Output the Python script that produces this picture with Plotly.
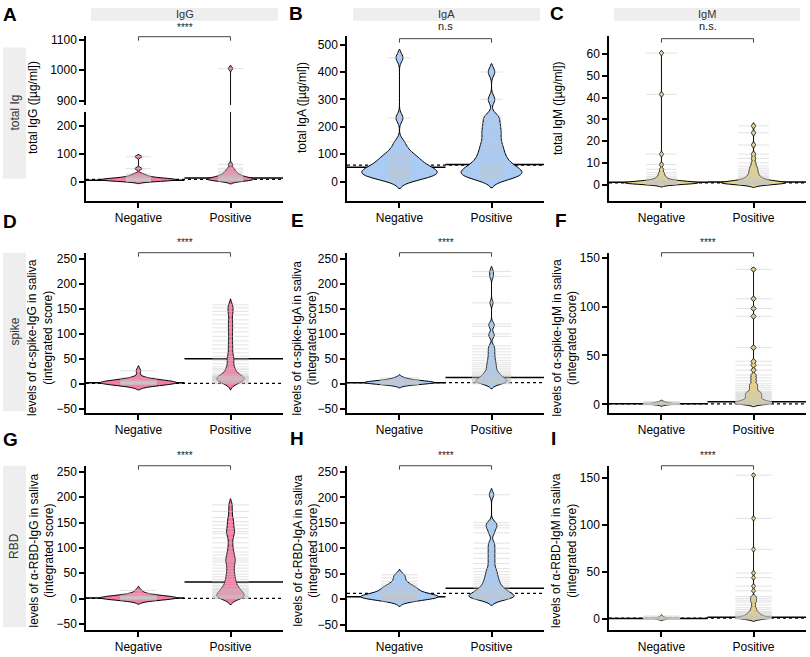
import plotly.graph_objects as go

# ---------------- data ----------------
categories = ["Negative", "Positive"]
antibodies = ["IgG", "IgA", "IgM"]
row_labels = ["total Ig", "spike", "RBD"]
panel_letters = ["A", "B", "C", "D", "E", "F", "G", "H", "I"]

igg_total_neg = [1, 2, 3, 4, 5, 5, 6, 7, 8, 8, 9, 10, 11, 12, 14, 16, 19, 23, 28, 47, 90]
igg_total_pos = [2, 3, 4, 5, 6, 7, 8, 9, 10, 11, 12, 13, 14, 16, 18, 20, 22, 25, 28, 32, 36, 42, 48, 62, 1005]
iga_total_neg = [5, 10, 15, 18, 22, 25, 28, 30, 33, 36, 40, 43, 46, 50, 54, 58, 62, 68, 74, 80, 86, 92,
                 100, 110, 125, 145, 232, 452]
iga_total_pos = [8, 12, 16, 20, 24, 28, 31, 34, 38, 42, 46, 50, 55, 60, 66, 72, 80, 88, 96, 105, 115, 125,
                 135, 148, 160, 175, 185, 200, 212, 230, 240, 300, 400]
igm_total_neg = [0.1, 0.2, 0.3, 0.4, 0.5, 0.5, 0.6, 0.6, 0.7, 0.7, 0.8, 0.8, 0.9, 0.9, 1.0, 1.0, 1.1, 1.2,
                 1.3, 1.4, 1.6, 1.8, 2.1, 2.5, 3.0, 3.6, 4.5, 5.5, 7.0, 9.2, 14, 41.5, 60.5]
igm_total_pos = [0.1, 0.2, 0.3, 0.4, 0.5, 0.5, 0.6, 0.7, 0.7, 0.8, 0.9, 1.0, 1.0, 1.1, 1.2, 1.4, 1.6, 1.8,
                 2.1, 2.4, 2.8, 3.2, 3.7, 4.3, 5.0, 5.8, 6.6, 7.5, 8.5, 10, 12, 14, 18.2, 23.8, 27]
igg_spike_neg = [-2, -1, 0, 0, 1, 1, 1, 2, 2, 2, 2, 3, 3, 3, 4, 4, 5, 6, 8, 12, 26]
igg_spike_pos = [0, 2, 3, 5, 6, 7, 8, 9, 10, 11, 12, 13, 14, 15, 16, 18, 20, 24, 28, 30, 34, 40, 46, 50, 55,
                 62, 70, 78, 86, 95, 104, 112, 120, 128, 138, 145, 152, 158]
iga_spike_neg = [-2, -1, 0, 1, 1, 2, 2, 2, 3, 3, 3, 4, 4, 5, 6, 7, 9, 12]
iga_spike_pos = [0, 1, 2, 3, 4, 5, 6, 7, 8, 9, 10, 12, 14, 16, 18, 20, 23, 26, 30, 34, 38, 42, 47, 52, 58,
                 64, 70, 76, 95, 100, 115, 120, 162, 215, 225]
igm_spike_neg = [-0.5, -0.2, 0, 0.2, 0.3, 0.5, 0.6, 0.8, 1.0, 1.2, 1.5, 2.0, 2.8]
igm_spike_pos = [0, 0.3, 0.6, 1, 1.3, 1.7, 2, 2.5, 3, 3.5, 4, 5, 6, 7, 8, 9, 10, 11, 12, 13, 15, 17, 19, 21,
                 24, 27, 30, 35, 40, 44, 58, 90, 98, 108, 138]
igg_rbd_neg = [-3, -2, -1, 0, 0, 0, 1, 1, 1, 1, 2, 2, 2, 3, 3, 4, 5, 7, 10, 16]
igg_rbd_pos = [0, 1, 2, 3, 4, 5, 6, 8, 10, 12, 14, 16, 18, 20, 23, 26, 30, 34, 38, 43, 48, 54, 60, 66, 72,
               76, 80, 86, 92, 100, 110, 120, 128, 132, 138, 145, 152, 160, 172, 185]
iga_rbd_neg = [-4, -2, 0, 1, 2, 3, 3, 4, 5, 5, 6, 7, 8, 9, 10, 12, 14, 16, 18, 20, 22, 24, 27, 30, 35, 42, 48]
iga_rbd_pos = [0, 1, 2, 3, 4, 5, 6, 7, 8, 10, 12, 14, 16, 18, 20, 23, 26, 30, 34, 38, 43, 48, 54, 60, 70,
               80, 90, 100, 110, 130, 140, 145, 150, 205]
igm_rbd_neg = [-0.3, 0, 0, 0.2, 0.3, 0.5, 0.6, 0.8, 1, 1.2, 1.6, 2.2, 3.2]
igm_rbd_pos = [0, 0.2, 0.5, 0.7, 1, 1.2, 1.5, 2, 2.5, 3, 3.5, 4, 5, 6, 7, 8, 10, 12, 15, 18, 20, 22, 24,
               30, 35, 44, 49, 74, 107, 153]

neg_lines = [5, 53, 1.0, 2, 2, 0.5, 1, 4.7, 0.5]
pos_lines = [13, 63, 1.2, 50, 12.5, 2.7, 32.7, 21.4, 1.8]
cutoff_lines = [8, 60, 0.8, 1, 2.5, 0.5, 0.5, 11.5, 1]
sig_labels = ["****", "n.s", "n.s.", "****", "****", "****", "****", "****", "****"]
y_titles = [
    "total IgG ([µg/ml])", "total IgA ([µg/ml])", "total IgM ([µg/ml])",
    "levels of α-spike-IgG in saliva<br>(integrated score)",
    "levels of α-spike-IgA in saliva<br>(integrated score)",
    "levels of α-spike-IgM in saliva<br>(integrated score)",
    "levels of α-RBD-IgG in saliva<br>(integrated score)",
    "levels of α-RBD-IgA in saliva<br>(integrated score)",
    "levels of α-RBD-IgM in saliva<br>(integrated score)",
]
y_tick_values = [
    [0, 100, 200], [0, 100, 200, 300, 400, 500], [0, 10, 20, 30, 40, 50, 60],
    [-50, 0, 50, 100, 150, 200, 250], [-50, 0, 50, 100, 150, 200, 250], [0, 50, 100, 150],
    [-50, 0, 50, 100, 150, 200, 250], [-50, 0, 50, 100, 150, 200, 250], [0, 50, 100, 150],
]
a_top_tick_values = [900, 1000, 1100]

panel_data = [
    (igg_total_neg, igg_total_pos), (iga_total_neg, iga_total_pos), (igm_total_neg, igm_total_pos),
    (igg_spike_neg, igg_spike_pos), (iga_spike_neg, iga_spike_pos), (igm_spike_neg, igm_spike_pos),
    (igg_rbd_neg, igg_rbd_pos), (iga_rbd_neg, iga_rbd_pos), (igm_rbd_neg, igm_rbd_pos),
]

# ---------------- style / geometry ----------------
W, H = 810, 657
FONT = "Liberation Sans, Arial, sans-serif"
colors = {"IgG": "#f27ea5", "IgA": "#a9cbf4", "IgM": "#e6d486"}
bandwidths = [(4, 5), (15, 15), (0.6, 0.7), (5, 6), (3, 5), (0.8, 1.2), (4, 6), (5, 6), (0.7, 1.2)]
violin_widths = [(0.82, 0.5), (0.82, 0.66), (0.8, 0.7), (0.82, 0.3), (0.75, 0.34), (0.26, 0.42),
                 (0.82, 0.3), (0.84, 0.49), (0.16, 0.34)]
dash_sizes = [18, 16, 22, 26, 28, 26, 26, 26, 26]
col_px = [(86, 283), (347, 544), (609, 806)]
row_px = [(33, 200), (252, 414), (467, 633)]
a_bottom_top_px = 110
a_top_bottom_px = 103
x_range = [-0.57, 1.57]
y_ranges = [[-70.4, 251], [-71.2, 532.5], [-7.66, 68.5], [-58.9, 262.5], [-58.9, 262.5],
            [-9.1, 155.1], [-62.6, 262.3], [-61, 262], [-11.9, 163]]
a_top_range = [885.6, 1112.5]
title_dx = [53, 45, 51, 46, 42.5, 44.5, 44.5, 41.5, 45]
title_cy = [106, 338, 553]
bracket_px = [34, 36, 36, 252, 252, 252, 467, 467, 467]
sig_text_px = [25, 23, 23, 242, 242, 242, 457, 457, 457]
letter_pos = [(10, 12), (296, 11), (557, 11), (10, 221), (297, 220), (561, 220), (10, 441), (297, 440),
              (553, 440)]


def px_x(p):
    return p / W


def px_y(p):
    return 1 - p / H


fig = go.Figure()
layout_axes = {}
shapes = []
annotations = []

axis_common = dict(showline=True, linecolor="black", linewidth=1.5, ticks="outside", ticklen=5,
                   tickwidth=1.5, tickcolor="black", showgrid=False, zeroline=False,
                   tickfont=dict(size=12, color="black", family=FONT), fixedrange=True)

for k in range(9):
    r, c = divmod(k, 3)
    ab = antibodies[c]
    xname = "xaxis" if k == 0 else f"xaxis{k + 1}"
    yname = "yaxis" if k == 0 else f"yaxis{k + 1}"
    xref = "x" if k == 0 else f"x{k + 1}"
    yref = "y" if k == 0 else f"y{k + 1}"
    x0p, x1p = col_px[c]
    top_p, bot_p = row_px[r]
    top_p_main = a_bottom_top_px if k == 0 else top_p
    layout_axes[xname] = dict(axis_common, domain=[px_x(x0p), px_x(x1p)], anchor=yref, type="linear",
                              range=x_range, tickvals=[0, 1], ticktext=categories)
    layout_axes[yname] = dict(axis_common, domain=[px_y(bot_p), px_y(top_p_main)], anchor=xref,
                              range=y_ranges[k], tickvals=y_tick_values[k])

    neg, pos = panel_data[k]
    targets = [yref]
    if k == 0:
        targets.append("y10")
    for ya in targets:
        for j, vals in enumerate((neg, pos)):
            fig.add_trace(go.Violin(
                x0=j, y=vals, xaxis=xref, yaxis=ya, orientation="v",
                fillcolor=colors[ab], line=dict(color="black", width=1),
                bandwidth=bandwidths[k][j], points=False, width=violin_widths[k][j],
                scalegroup=f"p{k}_{j}", scalemode="width", spanmode="soft",
                box_visible=False, meanline_visible=False, opacity=1,
                showlegend=False, hoverinfo="skip"))
        for j, vals in enumerate((neg, pos)):
            fig.add_trace(go.Scatter(
                x=[j] * len(vals), y=vals, xaxis=xref, yaxis=ya, mode="markers",
                marker=dict(symbol="line-ew", size=dash_sizes[k],
                            line=dict(color="rgba(200,200,200,0.5)", width=1)),
                showlegend=False, hoverinfo="skip"))

    # group lines and cutoff (behind the violins)
    shapes.append(dict(type="line", xref=xref, yref=yref, x0=x_range[0], x1=0.5,
                       y0=neg_lines[k], y1=neg_lines[k], layer="below",
                       line=dict(color="black", width=1.5)))
    shapes.append(dict(type="line", xref=xref, yref=yref, x0=0.5, x1=x_range[1],
                       y0=pos_lines[k], y1=pos_lines[k], layer="below",
                       line=dict(color="black", width=1.5)))
    shapes.append(dict(type="line", xref=xref, yref=yref, x0=x_range[0], x1=x_range[1],
                       y0=cutoff_lines[k], y1=cutoff_lines[k], layer="below",
                       line=dict(color="black", width=1.3, dash="dot")))

    # significance bracket
    yb = px_y(bracket_px[k])
    yt = px_y(bracket_px[k] + 4)
    shapes.append(dict(type="path", xref=xref, yref="paper",
                       path=f"M 0,{yt} L 0,{yb} L 1,{yb} L 1,{yt}",
                       line=dict(color="#444444", width=1)))
    is_star = sig_labels[k].startswith("*")
    annotations.append(dict(text=sig_labels[k], xref=xref, yref="paper", x=0.5, y=px_y(sig_text_px[k]),
                            showarrow=False, xanchor="center", yanchor="middle",
                            font=dict(size=10 if is_star else 11, color="#222222", family=FONT)))

    # y title
    annotations.append(dict(text=y_titles[k], xref="paper", yref="paper",
                            x=px_x(x0p - title_dx[k]), y=px_y(title_cy[r]), textangle=-90,
                            showarrow=False, xanchor="center", yanchor="middle",
                            font=dict(size=12, color="black", family=FONT)))

    # panel letter
    lx, ly = letter_pos[k]
    annotations.append(dict(text=f"<b>{panel_letters[k]}</b>", xref="paper", yref="paper",
                            x=px_x(lx), y=px_y(ly), showarrow=False, xanchor="center",
                            yanchor="middle", font=dict(size=19, color="black", family=FONT)))

# broken axis top segment for panel A
layout_axes["yaxis10"] = dict(axis_common, domain=[px_y(a_top_bottom_px), px_y(row_px[0][0])],
                              anchor="x", range=a_top_range, tickvals=a_top_tick_values)

# column strips
strip_px = [(91, 278), (353, 540), (614, 800)]
for c, ab in enumerate(antibodies):
    sx0, sx1 = strip_px[c]
    shapes.append(dict(type="rect", xref="paper", yref="paper", x0=px_x(sx0), x1=px_x(sx1),
                       y0=px_y(18), y1=px_y(5), fillcolor="#eeeeee", line=dict(width=0),
                       layer="below"))
    annotations.append(dict(text=ab, xref="paper", yref="paper", x=px_x((sx0 + sx1) / 2), y=px_y(11),
                            showarrow=False, xanchor="center", yanchor="middle",
                            font=dict(size=11, color="#333333", family=FONT)))

# row strips
row_strip_px = [(45, 177), (252, 412), (467, 630)]
for r, lab in enumerate(row_labels):
    sy0, sy1 = row_strip_px[r]
    shapes.append(dict(type="rect", xref="paper", yref="paper", x0=px_x(3), x1=px_x(26),
                       y0=px_y(sy1), y1=px_y(sy0), fillcolor="#eeeeee", line=dict(width=0),
                       layer="below"))
    annotations.append(dict(text=lab, xref="paper", yref="paper", x=px_x(14.5), y=px_y((sy0 + sy1) / 2),
                            textangle=-90, showarrow=False, xanchor="center", yanchor="middle",
                            font=dict(size=12, color="#333333", family=FONT)))

fig.update_layout(
    width=W, height=H, autosize=False,
    margin=dict(l=0, r=0, t=0, b=0),
    paper_bgcolor="white", plot_bgcolor="white",
    violinmode="overlay", showlegend=False,
    font=dict(family=FONT, color="black"),
    shapes=shapes, annotations=annotations,
    **layout_axes,
)

fig.write_html("out.html", config={"displayModeBar": False},
               post_script="document.body.style.margin='0';")
